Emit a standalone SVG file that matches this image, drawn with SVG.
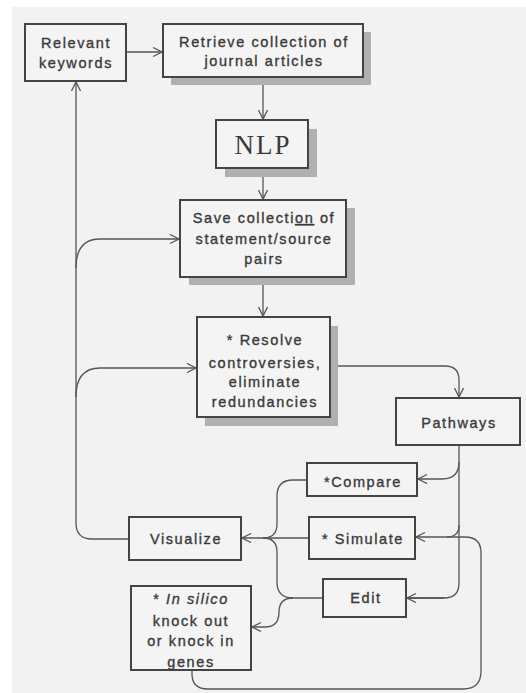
<svg xmlns="http://www.w3.org/2000/svg" width="526" height="693" viewBox="0 0 526 693">
<defs>
<marker id="arr" markerUnits="userSpaceOnUse" markerWidth="12" markerHeight="12" refX="10" refY="5" orient="auto">
<path d="M1,0.5 L10,5 L1,9.5" fill="none" stroke="#555" stroke-width="1.3"/>
</marker>
<style>
.box{fill:#f4f4f4;stroke:#444;stroke-width:2}
.sh{fill:#b0b0b0}
.t{font-family:"Liberation Sans",Arial,sans-serif;font-size:14.5px;letter-spacing:1.6px;fill:#3a3a3a;stroke:#3a3a3a;stroke-width:0.35px;text-anchor:middle}
.c{fill:none;stroke:#555;stroke-width:1.3}
.a{marker-end:url(#arr)}
</style>
</defs>
<rect x="0" y="0" width="526" height="693" fill="#ffffff"/>
<rect x="12" y="7" width="514" height="686" fill="#f2f2f2"/>

<g id="connectors">
<path class="c a" d="M126,52 L162,52"/>
<path class="c a" d="M263,77 L263,119"/>
<path class="c a" d="M263,168 L263,199"/>
<path class="c a" d="M263,277 L263,316"/>
<path class="c a" d="M330,366 L445,366 Q459,366 459,380 L459,397"/>
<path class="c" d="M459,445 L459,583 Q459,598 444,598 L407,598"/>
<path class="c a" d="M444,598 L407,598"/>
<path class="c a" d="M459,462 Q459,479 442,479 L418,479"/>
<path class="c a" d="M459,525 Q459,537 447,537 L416,537"/>
<path class="c" d="M192,670 L192,674 Q192,689 208,689 L463,689 Q481,689 481,671 L481,553 Q481,537 465,537 L447,537"/>
<path class="c" d="M307,480 L293,480 Q277,480 277,496 L277,524 Q277,538 263,538"/>
<path class="c a" d="M309,538 L242,538"/>
<path class="c" d="M323,598 L293,598 Q277,598 277,582 L277,552 Q277,538 263,538"/>
<path class="c a" d="M293,598 Q279,598 279,612 Q279,627 265,627 L252,627"/>
<path class="c a" d="M129,539 L92,539 Q76,539 76,523 L76,82"/>
<path class="c a" d="M76,268 Q76,239 100,239 L179,239"/>
<path class="c a" d="M76,397 Q76,368 100,368 L196,368"/>
</g>

<g id="keywords">
<rect class="box" x="25" y="24" width="101" height="57"/>
<text class="t" x="76" y="48">Relevant</text>
<text class="t" x="76" y="68">keywords</text>
</g>

<g id="retrieve">
<rect class="sh" x="171" y="32" width="200" height="53"/>
<rect class="box" x="163" y="24" width="200" height="53"/>
<text class="t" x="264" y="47">Retrieve collection of</text>
<text class="t" x="264" y="66">journal articles</text>
</g>

<g id="nlp">
<rect class="sh" x="225" y="129" width="92" height="48"/>
<rect class="box" x="216" y="120" width="92" height="48"/>
<text x="263" y="154" font-family="'Liberation Serif','Times New Roman',serif" font-size="27" letter-spacing="2" fill="#3a3a3a" text-anchor="middle">NLP</text>
</g>

<g id="save">
<rect class="sh" x="189" y="208" width="166" height="77"/>
<rect class="box" x="180" y="200" width="166" height="77"/>
<text class="t" x="264" y="223">Save collecti<tspan text-decoration="underline">on</tspan> of</text>
<text class="t" x="264" y="244">statement/source</text>
<text class="t" x="264" y="264">pairs</text>
</g>

<g id="resolve">
<rect class="sh" x="205" y="326" width="133" height="100"/>
<rect class="box" x="197" y="317" width="133" height="100"/>
<text class="t" x="265" y="345">* Resolve</text>
<text class="t" x="265" y="368">controversies,</text>
<text class="t" x="265" y="387">eliminate</text>
<text class="t" x="265" y="407">redundancies</text>
</g>

<g id="pathways">
<rect class="box" x="396" y="398" width="124" height="47"/>
<text class="t" x="459" y="428">Pathways</text>
</g>

<g id="compare">
<rect class="box" x="307" y="463" width="110" height="33"/>
<text class="t" x="363" y="487">*Compare</text>
</g>

<g id="simulate">
<rect class="box" x="309" y="517" width="106" height="42"/>
<text class="t" x="363" y="544">* Simulate</text>
</g>

<g id="visualize">
<rect class="box" x="129" y="517" width="112" height="43"/>
<text class="t" x="186" y="544">Visualize</text>
</g>

<g id="edit">
<rect class="box" x="323" y="579" width="83" height="38"/>
<text class="t" x="366" y="603">Edit</text>
</g>

<g id="insilico">
<rect class="box" x="131" y="586" width="120" height="84"/>
<text class="t" x="191" y="604">*  <tspan font-style="italic">In silico</tspan></text>
<text class="t" x="191" y="626">knock out</text>
<text class="t" x="191" y="646">or knock in</text>
<text class="t" x="191" y="667">genes</text>
</g>
</svg>
